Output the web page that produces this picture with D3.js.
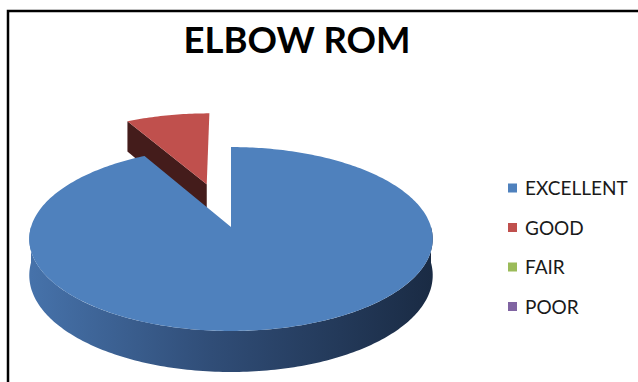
<!DOCTYPE html>
<html><head><meta charset="utf-8">
<script src="https://cdn.jsdelivr.net/npm/d3@7"></script>
<style>html,body{margin:0;padding:0;background:#fff;}svg{display:block;}</style>
</head><body>
<script>
const categories = ["EXCELLENT", "GOOD", "FAIR", "POOR"];
const values = [92, 8, 0, 0];
const colors = ["#4f81bd", "#c0504d", "#9bbb59", "#8064a2"];
const title = "ELBOW ROM";

const W = 638, H = 382;
const svg = d3.select("body").append("svg").attr("width", W).attr("height", H);

// frame
svg.append("path").attr("d", `M8,382 V11 H638`).attr("fill", "none").attr("stroke", "#000").attr("stroke-width", 2.5);

svg.append("text").attr("x", 297).attr("y", 53).attr("text-anchor", "middle")
  .style("font-family", "Lato, 'Liberation Sans', sans-serif").style("font-weight", "bold").style("font-size", "36.5px")
  .text(title);

// 3D pie projection
const cx = 231, cy = 227, A = 90.4, B = 200, k = 0.1304, h = 35.7, explode = 0.52;
function proj(u, v, z) {
  const s = 1 + k * v;
  return [cx + B * u / s, cy - A * v / s + z * h / s];
}
const pie = d3.pie().sort(null).value(d => d)(values);
const defs = svg.append("defs");
const g = svg.append("g");

function rimPts(a0, a1, ou, ov, z) {
  const pts = [];
  const n = Math.max(2, Math.ceil(Math.abs(a1 - a0) / (Math.PI / 180)));
  for (let i = 0; i <= n; i++) {
    const a = a0 + (a1 - a0) * i / n;
    pts.push(proj(ou + Math.sin(a), ov + Math.cos(a), z));
  }
  return pts;
}
const line = d3.line();

const slices = pie.map((p, i) => ({ p, i })).filter(d => d.p.endAngle - d.p.startAngle > 1e-6);
slices.forEach(d => {
  const mid = (d.p.startAngle + d.p.endAngle) / 2;
  const e = d.i === 1 ? explode : 0;
  d.ou = e * Math.sin(mid); d.ov = e * Math.cos(mid);
});

function darker(c, f) { return d3.color(c).darker(f).formatHex(); }

const order = slices.slice().sort((a, b) => (b.i === 1) - (a.i === 1));
order.forEach(d => {
  const { p, i, ou, ov } = d;
  const col = colors[i];
  const a0 = p.startAngle, a1 = p.endAngle;
  [[a0, -1], [a1, 1]].forEach(([a, sgn]) => {
    const nv = -Math.sin(a) * sgn;
    if (nv < -0.05) {
      const c0 = proj(ou, ov, 0), r0 = proj(ou + Math.sin(a), ov + Math.cos(a), 0);
      const r1 = proj(ou + Math.sin(a), ov + Math.cos(a), 1), c1 = proj(ou, ov, 1);
      g.append("path").attr("d", line([c0, r0, r1, c1]) + "Z").attr("fill", darker(col, 2.9));
    }
  });
  const s0 = Math.max(a0, Math.PI / 2), s1 = Math.min(a1, 3 * Math.PI / 2);
  if (s1 > s0) {
    const gid = "grad" + i;
    const gr = defs.append("linearGradient").attr("id", gid).attr("gradientUnits", "userSpaceOnUse")
      .attr("x1", cx - B).attr("x2", cx + B).attr("y1", 0).attr("y2", 0);
    gr.append("stop").attr("offset", "0%").attr("stop-color", "#4672aa");
    gr.append("stop").attr("offset", "45%").attr("stop-color", "#304d77");
    gr.append("stop").attr("offset", "100%").attr("stop-color", "#1a2b44");
    const top = rimPts(s0, s1, ou, ov, 0), bot = rimPts(s1, s0, ou, ov, 1);
    g.append("path").attr("d", line(top.concat(bot)) + "Z").attr("fill", `url(#${gid})`);
  }
  const pts = [proj(ou, ov, 0)].concat(rimPts(a0, a1, ou, ov, 0));
  g.append("path").attr("d", line(pts) + "Z").attr("fill", col);
});

// legend
const leg = svg.append("g").selectAll("g").data(categories).join("g")
  .attr("transform", (d, i) => `translate(508, ${188 + i * 39.5})`);
leg.append("rect").attr("x", 0).attr("y", -4.5).attr("width", 9).attr("height", 9).attr("fill", (d, i) => colors[i]);
leg.append("text").attr("x", 17).attr("y", 7).style("font-family", "Lato, 'Liberation Sans', sans-serif")
  .style("font-size", "19px").attr("fill", "#1a1a1a").text(d => d);
</script>
</body></html>
